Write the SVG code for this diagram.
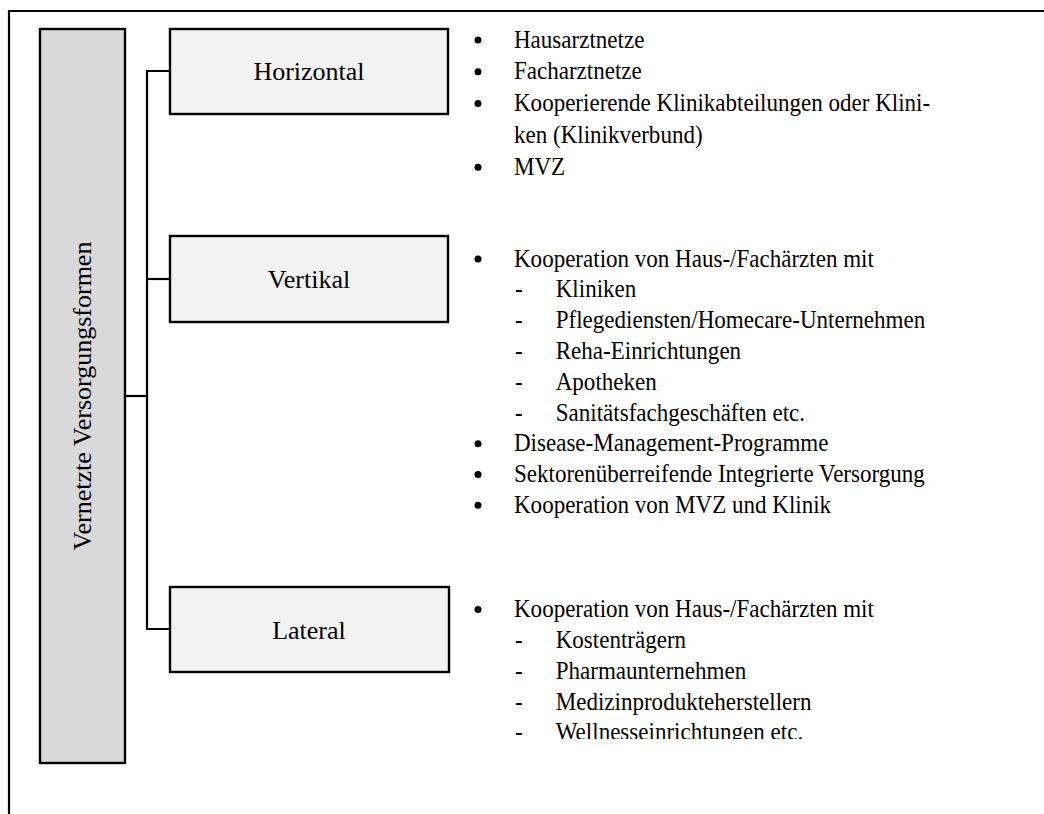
<svg xmlns="http://www.w3.org/2000/svg" width="1044" height="814" viewBox="0 0 1044 814">
  <style>
    .frame { fill: none; stroke: #000; stroke-width: 2.2; }
    .root { fill: #d9d9d9; stroke: #000; stroke-width: 2.4; }
    .cat { fill: #f2f2f2; stroke: #000; stroke-width: 2.4; }
    .label { font-family: "Liberation Serif", "Times New Roman", serif; font-size: 26px; fill: #000; text-anchor: middle; }
    .item { font-family: "Liberation Serif", "Times New Roman", serif; font-size: 24.5px; fill: #000; }
    .conn { fill: none; stroke: #000; stroke-width: 2.2; }
    .dot { fill: #000; }
  </style>
  <defs>
    <clipPath id="lateralClip">
      <rect x="440" y="590" width="604" height="149"/>
    </clipPath>
  </defs>

  <rect width="1044" height="814" fill="#fff"/>

  <!-- outer frame (top and left edges) -->
  <path class="frame" d="M9,814 V11 H1044"/>

  <!-- root node -->
  <g id="node-root">
    <rect class="root" x="40" y="29" width="85" height="734"/>
    <text class="label" transform="translate(90.5,396) rotate(-90)" x="0" y="0">Vernetzte Versorgungsformen</text>
  </g>

  <!-- connectors -->
  <g id="connectors">
    <path class="conn" d="M125,396 H147"/>
    <path class="conn" d="M170,71 H147 V629 H170"/>
    <path class="conn" d="M147,279 H170"/>
  </g>

  <!-- category: horizontal -->
  <g id="node-horizontal">
    <rect class="cat" x="170" y="29" width="278" height="85"/>
    <text class="label" x="309" y="80">Horizontal</text>
  </g>

  <!-- category: vertical -->
  <g id="node-vertikal">
    <rect class="cat" x="170" y="236" width="278" height="86"/>
    <text class="label" x="309" y="287.5">Vertikal</text>
  </g>

  <!-- category: lateral -->
  <g id="node-lateral">
    <rect class="cat" x="170" y="587" width="279" height="85"/>
    <text class="label" x="309" y="638.5">Lateral</text>
  </g>

  <!-- examples: horizontal -->
  <g id="list-horizontal">
    <circle class="dot" cx="478" cy="40" r="3.5"/>
    <circle class="dot" cx="478" cy="71.8" r="3.5"/>
    <circle class="dot" cx="478" cy="103.6" r="3.5"/>
    <circle class="dot" cx="478" cy="167.3" r="3.5"/>
    <!-- slightly condensed text run -->
    <g transform="matrix(0.94,0,0,1,30.84,0)">
      <text class="item" x="514" y="47.7">Hausarztnetze</text>
      <text class="item" x="514" y="79.5">Facharztnetze</text>
      <text class="item" x="514" y="111.3">Kooperierende Klinikabteilungen oder Klini-</text>
      <text class="item" x="514" y="143.1">ken (Klinikverbund)</text>
      <text class="item" x="514" y="175">MVZ</text>
    </g>
  </g>

  <!-- examples: vertical -->
  <g id="list-vertikal">
    <circle class="dot" cx="478" cy="259" r="3.5"/>
    <circle class="dot" cx="478" cy="443.7" r="3.5"/>
    <circle class="dot" cx="478" cy="474.5" r="3.5"/>
    <circle class="dot" cx="478" cy="505.3" r="3.5"/>
    <g transform="matrix(0.94,0,0,1,30.84,0)">
      <text class="item" x="514" y="266.7">Kooperation von Haus-/Fachärzten mit</text>
      <text class="item" x="515" y="297.5">-</text>
      <text class="item" x="558.4" y="297.5">Kliniken</text>
      <text class="item" x="515" y="328.3">-</text>
      <text class="item" x="558.4" y="328.3">Pflegediensten/Homecare-Unternehmen</text>
      <text class="item" x="515" y="359">-</text>
      <text class="item" x="558.4" y="359">Reha-Einrichtungen</text>
      <text class="item" x="515" y="389.8">-</text>
      <text class="item" x="558.4" y="389.8">Apotheken</text>
      <text class="item" x="515" y="420.6">-</text>
      <text class="item" x="558.4" y="420.6">Sanitätsfachgeschäften etc.</text>
      <text class="item" x="514" y="451.4">Disease-Management-Programme</text>
      <text class="item" x="514" y="482.2">Sektorenüberreifende Integrierte Versorgung</text>
      <text class="item" x="514" y="513">Kooperation von MVZ und Klinik</text>
    </g>
  </g>

  <!-- examples: lateral (text box cut off at its lower edge) -->
  <g id="list-lateral" clip-path="url(#lateralClip)">
    <circle class="dot" cx="478" cy="609.6" r="3.5"/>
    <g transform="matrix(0.94,0,0,1,30.84,0)">
      <text class="item" x="514" y="617.3">Kooperation von Haus-/Fachärzten mit</text>
      <text class="item" x="515" y="648">-</text>
      <text class="item" x="558.4" y="648">Kostenträgern</text>
      <text class="item" x="515" y="678.8">-</text>
      <text class="item" x="558.4" y="678.8">Pharmaunternehmen</text>
      <text class="item" x="515" y="709.6">-</text>
      <text class="item" x="558.4" y="709.6">Medizinprodukteherstellern</text>
      <text class="item" x="515" y="740.4">-</text>
      <text class="item" x="558.4" y="740.4">Wellnesseinrichtungen etc.</text>
    </g>
  </g>
</svg>
